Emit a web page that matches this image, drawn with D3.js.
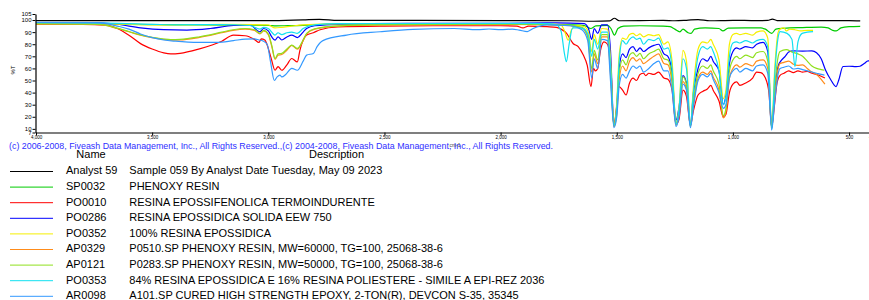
<!DOCTYPE html>
<html>
<head>
<meta charset="utf-8">
<script src="https://cdn.jsdelivr.net/npm/d3@7"></script>
<style>
  body { margin: 0; background: #fff; }
  svg { display: block; font-family: Arial, "Liberation Sans", sans-serif; }
</style>
</head>
<body>
<div id="chart"></div>
<script>
const width = 869, height = 300;

// spectra as [wavenumber cm-1, %T]
const analyst59 = [[4000,99.5],[3500,99.6],[3000,99.5],[2850,100.2],[2780,100.6],[2700,99.7],[2000,99.6],[1700,99.4],[1600,99.0],[1530,99.3],[1510,101.5],[1490,99.4],[1400,99.5],[1300,99.8],[1250,99.4],[1200,99.8],[1150,100.4],[1100,99.4],[1000,99.8],[900,99.5],[850,99.7],[830,100.8],[810,99.6],[700,99.6],[600,99.5],[500,99.6],[452,99.3]];

const sp0032 = [[4000,97.3],[3800,97.0],[3600,96.5],[3400,96.2],[3100,95.8],[3000,95.5],[2965,95.2],[2930,95.3],[2850,95.6],[2750,96.5],[2500,96.8],[2200,96.8],[2000,96.6],[1800,96.3],[1700,96],[1640,95.5],[1612,93],[1590,95.2],[1540,95.6],[1525,93],[1510,87.5],[1495,93],[1470,95],[1400,95.3],[1300,95],[1270,94.5],[1250,92.5],[1228,90.3],[1215,92.5],[1193,89.5],[1180,89],[1165,92.5],[1120,93.5],[1060,93],[1043,91],[1020,93.3],[950,93.6],[880,93.5],[860,92.5],[833,89],[815,92.5],[780,93.2],[700,93.8],[620,94.2],[590,93.5],[570,91.5],[555,91],[535,93.5],[500,94.5],[452,94.8]];

const po0010 = [[4000,96.7],[3800,96.5],[3700,95.8],[3650,93],[3600,87.5],[3550,80.5],[3500,76],[3450,72.8],[3420,72],[3380,72.5],[3300,76],[3200,82.5],[3150,87.5],[3100,87],[3060,84],[3040,81.5],[3030,84.5],[3015,83.5],[2990,70],[2971,58.5],[2958,61.5],[2942,58.5],[2920,63],[2899,68.2],[2875,65.4],[2864,75],[2835,87.6],[2806,89.5],[2777,92],[2700,94.3],[2500,95],[2200,95.3],[2000,95.3],[1930,95],[1904,93.5],[1880,95],[1800,94.5],[1760,94],[1740,92.5],[1716,89],[1688,80.6],[1666,78],[1644,71],[1627,62.6],[1611,45],[1600,60],[1592,58],[1582,60],[1570,75],[1555,82],[1540,80],[1525,60],[1513,13],[1502,25],[1490,45],[1475,42],[1460,38],[1445,48],[1430,52],[1415,50],[1400,55],[1385,56],[1375,54],[1362,56],[1340,55],[1320,57],[1297,52],[1280,51],[1262,42],[1245,14],[1232,18],[1215,42],[1200,37],[1183,13],[1170,25],[1150,38],[1130,41],[1110,43],[1095,46],[1085,42],[1060,33],[1041,19.7],[1030,22],[1015,40],[1000,47],[984,48.8],[970,46],[945,48],[915,52],[898,57],[880,56.5],[860,52],[845,40],[833,11.5],[822,28],[810,48],[797,54.3],[780,56],[760,58],[740,56.5],[720,58],[700,57],[680,57.5],[660,56],[640,55],[620,53.5],[604,52]];

const po0286 = [[4000,97.8],[3750,97.8],[3650,96.5],[3550,93.5],[3450,92],[3350,91.7],[3250,93],[3150,95.5],[3080,95.9],[3036,90.3],[3020,93],[3000,91],[2985,86],[2971,83.4],[2958,86],[2942,83.5],[2920,86],[2899,87.5],[2875,85.5],[2850,90],[2835,93],[2800,95.3],[2700,96.5],[2400,97.2],[2000,97.3],[1800,97.6],[1700,97.5],[1640,97],[1622,93],[1608,84],[1597,93],[1582,89],[1565,96],[1540,96],[1527,75],[1512,12],[1500,30],[1490,60],[1475,72],[1460,69],[1445,76],[1430,78],[1415,74],[1400,77],[1385,74],[1362,77],[1340,79],[1320,80],[1297,72],[1280,70],[1262,56],[1245,17],[1232,28],[1215,54],[1200,48],[1183,14],[1170,40],[1150,60],[1130,68],[1110,66],[1095,70],[1085,66],[1060,58],[1041,30],[1030,38],[1015,64],[1000,74],[984,77],[970,76],[945,78],[915,77],[898,80],[870,81.5],[850,74],[833,12],[820,42],[805,62],[790,67],[775,70],[760,73.5],[740,74.5],[700,74.3],[660,74.5],[640,73],[620,68],[600,58],[580,51],[556,45],[545,50],[526,61.6],[500,61.8],[470,61.5],[453,61.8],[435,64],[418,66.2],[400,66]];

const po0352 = [[4000,97],[3700,96.8],[3500,96],[3400,95.8],[3200,96.5],[3000,96],[2971,93.5],[2942,94],[2900,95],[2850,96],[2700,96.8],[2000,97],[1800,96.8],[1740,96],[1725,91],[1709,83.4],[1695,92],[1670,95.5],[1640,94.5],[1622,90],[1608,74],[1597,88],[1582,80],[1565,93],[1540,92.5],[1527,68],[1512,14],[1500,32],[1490,70],[1475,85],[1460,84],[1445,88],[1430,89],[1415,87],[1400,88.5],[1385,86],[1362,88],[1340,87],[1320,88],[1297,80],[1280,82],[1262,66],[1245,15],[1232,28],[1215,75],[1200,66],[1183,13],[1170,45],[1150,76],[1130,82],[1110,81],[1095,84],[1085,80],[1060,67],[1041,35],[1030,42],[1015,80],[1000,88],[984,89],[970,88],[945,89],[915,87.5],[898,90],[870,91],[850,85],[833,11],[820,60],[805,90],[797,92.5],[780,93.5],[770,91],[755,92.5],[733,92],[710,91],[680,91.5],[655,91.5]];

const ap0329 = [[4000,96.8],[3750,96.5],[3700,95.5],[3650,93],[3600,90.3],[3550,87.5],[3500,85.5],[3450,84],[3420,83.4],[3380,83.5],[3300,85.5],[3200,89.5],[3152,91.5],[3100,92.5],[3060,91.5],[3036,88.5],[3020,91],[3000,88],[2985,78],[2971,67.5],[2958,71],[2942,71.5],[2920,75],[2899,79],[2875,76],[2850,83],[2835,88.5],[2800,92.5],[2700,95],[2500,96],[2000,96.5],[1800,96.2],[1700,95.3],[1650,93.5],[1625,86],[1608,57],[1597,72],[1582,64],[1565,86],[1540,86],[1527,55],[1512,12],[1500,22],[1490,50],[1475,62],[1460,58],[1445,66],[1430,69],[1415,66],[1400,68],[1385,64],[1362,67],[1340,70],[1320,72],[1297,64],[1280,63],[1262,48],[1245,13],[1232,22],[1215,49],[1200,43],[1183,12],[1170,30],[1150,52],[1130,57],[1110,55],[1095,58],[1085,53],[1060,42],[1041,19],[1030,24],[1015,52],[1000,60],[984,63],[970,61],[945,64],[915,62],[898,66],[870,67],[850,60],[833,10.5],[820,38],[805,60],[797,64],[780,65],[760,66],[740,63.5],[720,62.5],[700,63],[680,60],[660,57],[640,55],[620,51],[604,47]];

const ap0121 = [[4000,97],[3750,96.7],[3700,95.8],[3650,93.3],[3600,90.5],[3550,87.8],[3500,85.8],[3450,84.3],[3420,83.8],[3380,84],[3300,86],[3200,90],[3152,92],[3100,93],[3060,92],[3036,89],[3020,91.5],[3000,88.5],[2985,79],[2971,68.2],[2958,72],[2942,72.4],[2920,76],[2899,79.3],[2875,76.5],[2850,83.5],[2835,89],[2800,92.8],[2700,95.2],[2500,96.2],[2000,96.7],[1800,96.4],[1700,95.5],[1650,94],[1625,87],[1608,60],[1597,75],[1582,67],[1565,88],[1540,88],[1527,58],[1512,12.5],[1500,24],[1490,55],[1475,67],[1460,63],[1445,71],[1430,73],[1415,70],[1400,72.5],[1385,68],[1362,72],[1340,74],[1320,76],[1297,68],[1280,67],[1262,52],[1245,14],[1232,24],[1215,53],[1200,47],[1183,12.5],[1170,33],[1150,56],[1130,62],[1110,60],[1095,63],[1085,58],[1060,47],[1041,21],[1030,27],[1015,58],[1000,67],[984,70],[970,68],[945,71],[915,69],[898,73],[870,74],[850,66],[833,11],[820,45],[805,70],[797,74],[770,75.5],[745,73.5],[720,72],[700,70],[680,66],[660,62],[640,60],[620,59],[606,58.5]];

const po0353 = [[4000,97.8],[3700,97.5],[3500,96.5],[3400,96],[3200,96.3],[3080,95.5],[3036,92.5],[3020,94],[3000,93],[2971,87.6],[2958,89.5],[2942,88],[2920,89.5],[2899,90],[2875,89],[2850,93],[2800,96],[2700,97],[2000,97.2],[1800,97],[1760,96],[1740,91],[1725,72],[1717,65.5],[1705,80],[1690,93.5],[1660,93.5],[1640,92.5],[1622,87],[1608,70],[1597,84],[1582,76],[1565,90],[1540,90],[1527,62],[1512,13],[1500,26],[1490,65],[1475,83],[1460,80],[1445,84],[1430,86],[1415,84],[1400,85],[1385,80],[1362,84],[1340,83],[1320,85],[1297,76],[1280,77],[1262,60],[1245,14],[1232,26],[1215,68],[1200,60],[1183,13],[1170,40],[1150,70],[1130,78],[1110,76],[1095,78],[1085,74],[1060,58],[1041,30],[1030,37],[1015,70],[1000,81],[984,82],[970,81],[945,83],[915,81],[898,83],[870,84],[850,78],[833,9.5],[820,55],[805,86],[797,90.5],[767,89],[746,84],[733,61.5],[720,82],[702,89],[680,90],[655,90.5]];

const ar0098 = [[4000,98],[3750,97.8],[3700,97],[3650,95],[3600,92.5],[3550,88.5],[3500,85.5],[3450,83.5],[3400,82.5],[3300,81.5],[3220,81.5],[3150,83],[3100,84.2],[3060,84.5],[3040,83.5],[3023,82.7],[3005,80],[2990,65],[2974,50],[2962,53],[2950,54.5],[2942,53],[2925,55],[2899,60],[2875,58.5],[2850,66],[2835,71],[2806,72.4],[2790,78],[2765,83],[2663,87.6],[2519,90.3],[2377,92.3],[2200,93],[2100,92],[2050,92.6],[2000,92],[1950,92.5],[1920,91.7],[1885,90.5],[1860,93],[1800,96],[1700,95.3],[1650,92],[1625,83],[1608,52],[1597,68],[1582,60],[1565,84],[1540,83],[1527,50],[1512,11],[1500,20],[1490,45],[1475,55],[1460,52],[1445,58],[1430,62],[1415,60],[1400,62],[1385,57],[1362,60],[1340,64],[1320,66],[1297,58],[1280,58],[1262,42],[1245,12],[1232,20],[1215,47],[1200,42],[1183,11],[1170,28],[1150,50],[1130,55],[1110,53],[1095,56],[1085,51],[1060,40],[1041,27],[1030,30],[1015,52],[1000,58],[984,60],[970,57],[945,60],[915,58],[898,62],[870,63],[850,56],[833,9],[820,33],[805,56],[797,60],[780,61],[760,62],[740,59.5],[720,60],[700,59],[680,58],[660,57],[640,56],[620,55],[606,54.5]];

const names = ["Analyst 59", "SP0032", "PO0010", "PO0286", "PO0352", "AP0329", "AP0121", "PO0353", "AR0098"];
const descriptions = [
  "Sample 059 By Analyst Date Tuesday, May 09 2023",
  "PHENOXY RESIN",
  "RESINA EPOSSIFENOLICA TERMOINDURENTE",
  "RESINA EPOSSIDICA SOLIDA EEW 750",
  "100% RESINA EPOSSIDICA",
  "P0510.SP PHENOXY RESIN, MW=60000, TG=100, 25068-38-6",
  "P0283.SP PHENOXY RESIN, MW=50000, TG=100, 25068-38-6",
  "84% RESINA EPOSSIDICA E 16% RESINA POLIESTERE - SIMILE A EPI-REZ 2036",
  "A101.SP CURED HIGH STRENGTH EPOXY, 2-TON(R), DEVCON S-35, 35345"
];
const colors = ["#000000", "#00cc00", "#ff0000", "#0000ff", "#f5ef00", "#ff8c1a", "#8fe01e", "#11e0f0", "#3399ff"];
const spectra = [analyst59, sp0032, po0010, po0286, po0352, ap0329, ap0121, po0353, ar0098];

const xTicks = [4000, 3500, 3000, 2500, 2000, 1500, 1000, 500, 400];
const yTicks = [7, 10, 20, 30, 40, 50, 60, 70, 80, 90, 100, 105];
const copyright = "(c) 2006-2008, Fiveash Data Management, Inc., All Rights Reserved.,(c) 2004-2008, Fiveash Data Management, Inc., All Rights Reserved.";

const svg = d3.select("#chart").append("svg")
  .attr("width", width)
  .attr("height", height);

const x = d3.scaleLinear().domain([4000, 400]).range([36, 872.3]);
const y = d3.scaleLinear().domain([7, 105]).range([132.5, 14]);

const line = d3.line()
  .x(d => x(d[0]))
  .y(d => y(d[1]))
  .curve(d3.curveMonotoneX);

svg.append("g")
  .selectAll("path")
  .data(spectra)
  .join("path")
  .attr("d", line)
  .attr("fill", "none")
  .attr("stroke", (d, i) => colors[i])
  .attr("stroke-width", 1.2)
  .attr("stroke-linejoin", "round");

// axes
const yAxis = svg.append("g")
  .attr("transform", "translate(35.5,0)")
  .call(d3.axisLeft(y).tickValues(yTicks).tickSize(3).tickSizeOuter(0).tickPadding(1));
yAxis.selectAll("text").attr("font-size", 6).attr("font-family", "Arial, 'Liberation Sans', sans-serif");

const xAxis = svg.append("g")
  .attr("transform", "translate(0,132.5)")
  .call(d3.axisBottom(x).tickValues(xTicks).tickSize(3).tickSizeOuter(0).tickPadding(0.5));
xAxis.selectAll("text").attr("font-size", 4.5).attr("font-family", "Arial, 'Liberation Sans', sans-serif");
svg.selectAll(".domain").attr("stroke", "#000").attr("stroke-width", 1.2);

svg.append("text")
  .attr("transform", "translate(15,70) rotate(-90)")
  .attr("text-anchor", "middle")
  .attr("font-size", 6)
  .text("%T");

svg.append("text")
  .attr("x", 9)
  .attr("y", 148.5)
  .attr("font-size", 9)
  .attr("fill", "#2f2fff")
  .attr("textLength", 544)
  .attr("lengthAdjust", "spacingAndGlyphs")
  .text(copyright);

svg.append("text")
  .attr("x", 455)
  .attr("y", 147)
  .attr("text-anchor", "middle")
  .attr("font-size", 5)
  .attr("fill", "#444")
  .text("cm-1");

// legend table
svg.append("text").attr("x", 91).attr("y", 158).attr("text-anchor", "middle")
  .attr("font-size", 11).text("Name");
svg.append("text").attr("x", 336.5).attr("y", 158).attr("text-anchor", "middle")
  .attr("font-size", 11).text("Description");

const rows = svg.append("g")
  .selectAll("g")
  .data(names)
  .join("g")
  .attr("transform", (d, i) => `translate(0,${171.5 + i * 15.6})`);

rows.append("line")
  .attr("x1", 10).attr("x2", 53)
  .attr("stroke", (d, i) => colors[i])
  .attr("stroke-width", 1);

rows.append("text")
  .attr("x", 66).attr("y", 2.8)
  .attr("font-size", 11)
  .text(d => d);

rows.append("text")
  .attr("x", 129.3).attr("y", 2.8)
  .attr("font-size", 11)
  .text((d, i) => descriptions[i]);
</script>
</body>
</html>
